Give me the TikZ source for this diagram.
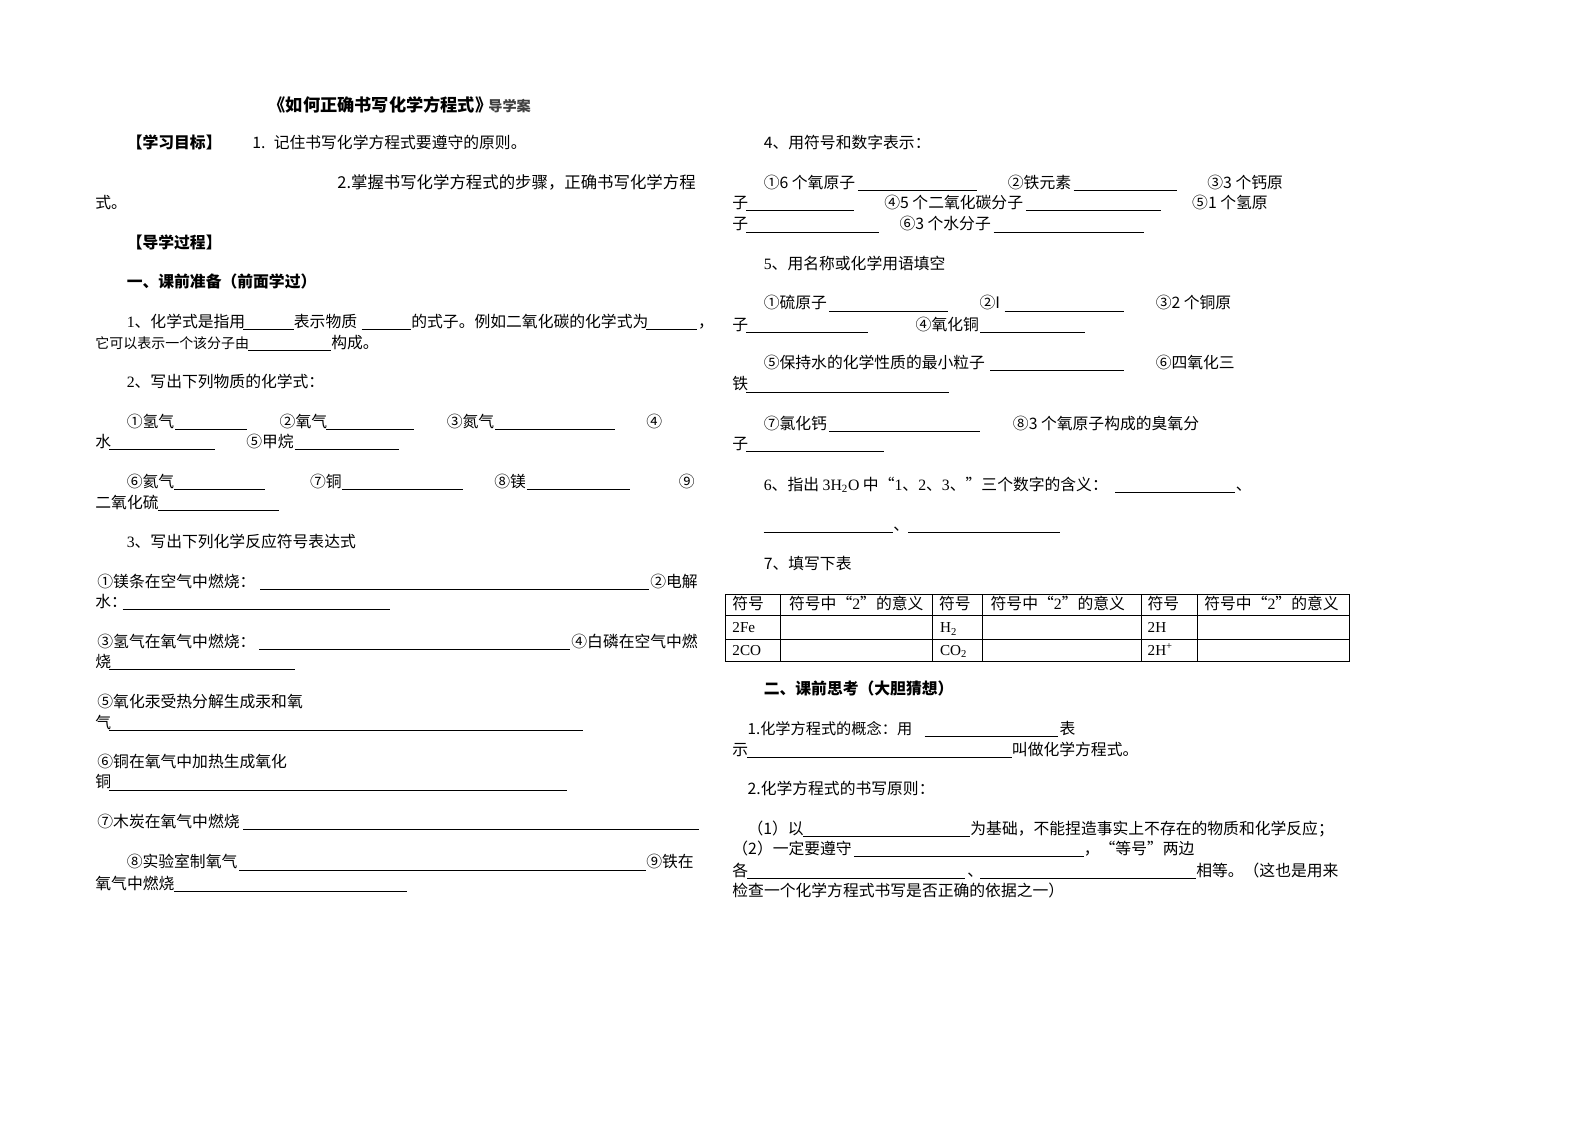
\documentclass[tikz,border=0pt]{standalone}
\usepackage{fontspec}
\setmainfont{Liberation Serif}
\newfontfamily\cjk{Noto Sans CJK SC}
\tikzset{
	txt/.style  = {anchor=base west, inner sep=0pt, font=\cjk\fontsize{15.6}{18}\selectfont},
	head/.style = {txt, font=\cjk\bfseries\fontsize{15.6}{18}\selectfont},
	cell/.style = {anchor=base west, inner sep=0pt, font=\fontsize{15}{18}\selectfont},
	blank/.style = {line width=0.8pt},
	grid/.style  = {line width=0.9pt},
}
\begin{document}
\begin{tikzpicture}[x=1pt,y=-1pt]
		\useasboundingbox (0,0) rectangle (1568,1109);
		% left column
		\path
			  (265,110) node[txt,font=\cjk\bfseries\fontsize{17}{18}\selectfont] (title) {《如何正确书写化学方程式》}
			  (482,110) node[txt,font=\cjk\bfseries\fontsize{14}{15}\selectfont,text=black!75] (sub) {导学案}
			  (125,147) node[head] (goal)   {【学习目标】}
			  (249,147) node[txt]  (goal1)  {1. \ 记住书写化学方程式要遵守的原则。}
			  (333,186) node[txt,font=\cjk\fontsize{16.2}{18}\selectfont] (goal2) {2.掌握书写化学方程式的步骤，正确书写化学方程}
			  ( 94,206) node[txt]  (goal2b) {式。}
			  (125,245) node[head] (proc)   {【导学过程】}
			  (125,284) node[head] (sec1)   {一、课前准备（前面学过）}
			  (125,323) node[txt]  (q1a)    {{\rmfamily 1}、化学式是指用}
			  (290,323) node[txt]  (q1b)    {表示物质}
			  (406,323) node[txt]  (q1c)    {的式子。例如二氧化碳的化学式为}
			  (689,323) node[txt]  (q1d)    {，}
			  ( 94,344) node[txt,font=\cjk\fontsize{13.8}{18}\selectfont] (q1e) {它可以表示一个该分子由}
			  (327,344) node[txt]  (q1f)    {构成。}
			  (125,383) node[txt]  (q2)     {{\rmfamily 2}、写出下列物质的化学式：}
			  (125,422) node[txt]  (q2i)    {①氢气}
			  (276,422) node[txt]  (q2ii)   {②氧气}
			  (441,422) node[txt]  (q2iii)  {③氮气}
			  (638,422) node[txt]  (q2iv)   {④}
			  ( 94,442) node[txt]  (q2ivb)  {水}
			  (243,442) node[txt]  (q2v)    {⑤甲烷}
			  (125,481) node[txt]  (q2vi)   {⑥氦气}
			  (306,481) node[txt]  (q2vii)  {⑦铜}
			  (488,481) node[txt]  (q2viii) {⑧镁}
			  (670,481) node[txt]  (q2ix)   {⑨}
			  ( 94,502) node[txt]  (q2ixb)  {二氧化硫}
			  (125,541) node[txt]  (q3)     {{\rmfamily 3}、写出下列化学反应符号表达式}
			  ( 96,580) node[txt]  (q3i)    {①镁条在空气中燃烧：}
			  (642,580) node[txt]  (q3ii)   {②电解}
			  ( 94,600) node[txt]  (q3iib)  {水：}
			  ( 96,639) node[txt]  (q3iii)  {③氢气在氧气中燃烧：}
			  (564,639) node[txt]  (q3iv)   {④白磷在空气中燃}
			  ( 94,659) node[txt]  (q3ivb)  {烧}
			  ( 96,699) node[txt]  (q3v)    {⑤氧化汞受热分解生成汞和氧}
			  ( 94,719) node[txt]  (q3vb)   {气}
			  ( 96,758) node[txt]  (q3vi)   {⑥铜在氧气中加热生成氧化}
			  ( 94,778) node[txt]  (q3vib)  {铜}
			  ( 96,817) node[txt]  (q3vii)  {⑦木炭在氧气中燃烧}
			  (125,857) node[txt]  (q3viii) {⑧实验室制氧气}
			  (638,857) node[txt]  (q3ix)   {⑨铁在}
			  ( 94,878) node[txt]  (q3ixb)  {氧气中燃烧}
		;
		% right column
		\path
			  ( 754,147) node[txt]  (q4)     {4、用符号和数字表示：}
			  ( 754,186) node[txt]  (q4i)    {①6 个氧原子}
			  ( 995,186) node[txt]  (q4ii)   {②铁元素}
			  (1192,186) node[txt]  (q4iii)  {③3 个钙原}
			  ( 723,206) node[txt]  (q4iiib) {子}
			  ( 873,206) node[txt]  (q4iv)   {④5 个二氧化碳分子}
			  (1177,206) node[txt]  (q4v)    {⑤1 个氢原}
			  ( 723,227) node[txt]  (q4vb)   {子}
			  ( 888,227) node[txt]  (q4vi)   {⑥3 个水分子}
			  ( 754,266) node[txt]  (q5)     {{\rmfamily 5}、用名称或化学用语填空}
			  ( 754,305) node[txt]  (q5i)    {①硫原子}
			  ( 967,305) node[txt]  (q5ii)   {②I}
			  (1141,305) node[txt]  (q5iii)  {③2 个铜原}
			  ( 723,326) node[txt]  (q5iiib) {子}
			  ( 904,326) node[txt]  (q5iv)   {④氧化铜}
			  ( 754,364) node[txt]  (q5v)    {⑤保持水的化学性质的最小粒子}
			  (1141,364) node[txt]  (q5vi)   {⑥四氧化三}
			  ( 723,385) node[txt]  (q5vib)  {铁}
			  ( 754,424) node[txt]  (q5vii)  {⑦氯化钙}
			  (1000,424) node[txt]  (q5viii) {⑧3 个氧原子构成的臭氧分}
			  ( 723,444) node[txt]  (q5viiib){子}
			  ( 754,484) node[txt]  (q6)     {{\rmfamily 6}、指出 {\rmfamily 3H\textsubscript{2}O} 中“{\rmfamily 1}、{\rmfamily 2}、{\rmfamily 3}、”三个数字的含义：}
			  (1220,484) node[txt]  (q6a)    {、}
			  ( 882,524) node[txt]  (q6b)    {、}
			  ( 754,562) node[txt]  (q7)     {7、填写下表}
			  ( 754,686) node[head] (sec2)   {二、课前思考（大胆猜想）}
			  ( 738,725) node[txt,font=\cjk\fontsize{15}{18}\selectfont] (t1a) {1.化学方程式的概念：用}
			  (1046,725) node[txt]  (t1b)    {表}
			  ( 723,746) node[txt]  (t1c)    {示}
			  ( 999,746) node[txt]  (t1d)    {叫做化学方程式。}
			  ( 738,784) node[txt]  (t2)     {2.化学方程式的书写原则：}
			  ( 738,824) node[txt]  (t2a)    {（1）以}
			  ( 958,824) node[txt]  (t2b)    {为基础，不能捏造事实上不存在的物质和化学反应；}
			  ( 723,844) node[txt]  (t2c)    {（2）一定要遵守}
			  (1070,844) node[txt]  (t2d)    {，“等号”两边}
			  ( 723,865) node[txt]  (t2e)    {各}
			  ( 955,865) node[txt]  (t2f)    {、}
			  (1181,865) node[txt]  (t2g)    {相等。（这也是用来}
			  ( 723,885) node[txt]  (t2h)    {检查一个化学方程式书写是否正确的依据之一）}
		;
		% table of symbols
		\draw[grid] (716,587) rectangle (1332,653);
		\foreach \y in {608,631} \draw[grid] (716,\y) -- (1332,\y);
		\foreach \x in {771,921,970,1127,1182} \draw[grid] (\x,587) -- (\x,653);
		\path
			  ( 723,602) node[txt]  (h1) {符号}
			  ( 779,602) node[txt]  (h2) {符号中“{\rmfamily 2}”的意义}
			  ( 927,602) node[txt]  (h3) {符号}
			  ( 978,602) node[txt]  (h4) {符号中“{\rmfamily 2}”的意义}
			  (1133,602) node[txt]  (h5) {符号}
			  (1189,602) node[txt]  (h6) {符号中“{\rmfamily 2}”的意义}
			  ( 723,625) node[cell] (fe)  {2Fe}
			  ( 928,625) node[cell] (hh)  {H\textsubscript{2}}
			  (1133,625) node[cell] (th)  {2H}
			  ( 723,647) node[cell] (co)  {2CO}
			  ( 928,647) node[cell] (coo) {CO\textsubscript{2}}
			  (1133,647) node[cell] (hp)  {2H\textsuperscript{+}}
		;
		% blanks to fill in
		\foreach \a/\b/\y in {240/290/325, 357/406/325, 638/688/325, 245/327/346,
				173/244/424, 322/409/424, 489/607/424, 108/212/444, 291/394/444,
				172/262/483, 338/457/483, 520/622/483, 156/275/504,
				257/641/582, 121/385/602, 256/563/641, 108/291/661,
				108/576/721, 108/560/780, 240/690/819, 236/638/859, 172/402/880,
				847/965/188, 1060/1162/188, 737/843/208, 1013/1146/208,
				737/868/229, 981/1130/229, 819/936/307, 992/1110/307,
				737/857/328, 968/1071/328, 978/1110/366, 737/937/387,
				819/968/426, 737/873/446, 1101/1219/486, 754/882/526, 897/1047/526,
				913/1045/727, 738/999/748, 793/958/826, 843/1070/846,
				738/953/867, 968/1181/867}
			\draw[blank] (\a,\y) -- (\b,\y);
	\end{tikzpicture}
\end{document}
